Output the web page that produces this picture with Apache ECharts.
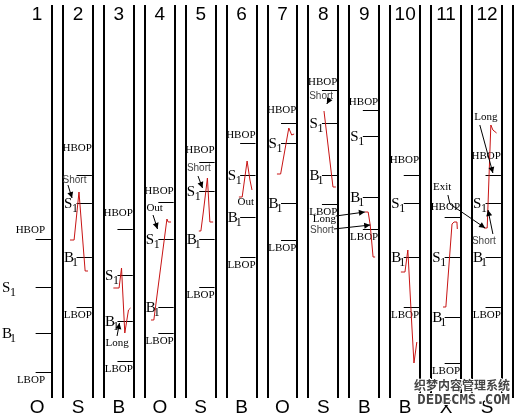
<!DOCTYPE html>
<html>
<head>
<meta charset="utf-8">
<script src="https://cdn.jsdelivr.net/npm/echarts@6/dist/echarts.min.js"></script>
<style>
html, body { margin: 0; padding: 0; background: #fff; }
#chart { width: 522px; height: 414px; }
</style>
</head>
<body>
<div id="chart"></div>
<script>
// sessions and the signal read at the bottom of each one
const sessions = ['1', '2', '3', '4', '5', '6', '7', '8', '9', '10', '11', '12'];
const signals = ['O', 'S', 'B', 'O', 'S', 'B', 'O', 'S', 'B', 'B', 'X', 'S'];

// pivot levels of each session (price units)
const hbop = [175, 239, 185, 212, 252, 271, 291, 324, 304, 239, 197, 239];
const s1 = [127, 211, 139, 175, 223, 239, 271, 291, 278, 211, 157, 211];
const b1 = [81, 157, 93, 107, 175, 197, 211, 239, 217, 157, 97, 157];
const lbop = [42, 107, 53, 81, 127, 157, 174, 210, 185, 107, 51, 107];

// price path inside each session: [time (session units), price]
const path2 = [[1.44, 174], [1.54, 174], [1.66, 222], [1.81, 143], [1.88, 143]];
const path3 = [[2.50, 126], [2.64, 126], [2.70, 146], [2.78, 81], [2.87, 104], [2.92, 106]];
const path4 = [[3.42, 94], [3.49, 94], [3.81, 195], [3.84, 192], [3.91, 192]];
const path5 = [[4.59, 183], [4.64, 183], [4.70, 202], [4.80, 236], [4.86, 192], [4.94, 192]];
const path6 = [[5.57, 217], [5.65, 217], [5.77, 253], [5.84, 234], [5.89, 224]];
const path7 = [[6.50, 240], [6.59, 240], [6.79, 286], [6.86, 279], [6.92, 280]];
const path8 = [[7.65, 303], [7.67, 305], [7.87, 227], [7.94, 227]];
const path9 = [[8.65, 202], [8.73, 202], [8.78, 189], [8.85, 157], [8.90, 157]];
const path10 = [[9.53, 142], [9.63, 142], [9.70, 164], [9.80, 87], [9.85, 51], [9.92, 72]];
const path11 = [[10.56, 107], [10.63, 107], [10.78, 190], [10.83, 192], [10.90, 192], [10.91, 185]];
const path12 = [[11.56, 186], [11.64, 186], [11.73, 289], [11.78, 284], [11.87, 281]];
const pricePaths = [path2, path3, path4, path5, path6, path7, path8, path9, path10, path11, path12];

// annotations: text, style, anchor and arrow (session units, price)
const notes = [
  { text: 'Short', sans: true, at: [1.55, 234], arrow: [[1.39, 229], [1.49, 216]] },
  { text: 'Long', at: [2.59, 71], arrow: [[2.59, 78], [2.65, 91]] },
  { text: 'Out', at: [3.51, 206], arrow: [[3.47, 199], [3.58, 185]] },
  { text: 'Short', sans: true, at: [4.59, 246], arrow: [[4.57, 238], [4.68, 226]] },
  { text: 'Out', at: [5.74, 212] },
  { text: 'Short', sans: true, at: [7.58, 318], arrow: [[7.80, 316], [7.72, 310]] },
  { text: 'Long', at: [7.66, 195], arrow: [[7.94, 198], [8.65, 202]] },
  { text: 'Short', sans: true, at: [7.60, 184], arrow: [[7.89, 185], [8.78, 189]] },
  { text: 'Exit', at: [10.54, 227], arrow: [[10.68, 219], [10.73, 210], [11.59, 186]] },
  { text: 'Long', at: [11.61, 297], arrow: [[11.46, 289], [11.78, 241]] },
  { text: 'Short', sans: true, at: [11.56, 173], arrow: [[11.78, 180], [11.66, 204]] }
];

// layout
const colWidth = 0.73;
const hbopRise = [9, 27, 16, 11, 12, 8, 13, 8, 8, 15, 10, 19];
const serif = '"Liberation Serif", "Times New Roman", serif';
const sans = '"Liberation Sans", Arial, sans-serif';

const levelData = [];
sessions.forEach(function (s, i) {
  levelData.push([i + 1, hbop[i], 0], [i + 1, s1[i], 1], [i + 1, b1[i], 2], [i + 1, lbop[i], 3]);
});
const frameData = [];
sessions.forEach(function (s, i) {
  frameData.push([i + 1], [i + 2 - colWidth]);
});

function renderFrame(params, api) {
  const a = api.coord([api.value(0), 409]);
  const b = api.coord([api.value(0), 16]);
  const x = Math.round(a[0]);
  return {
    type: 'line',
    shape: { x1: x, y1: a[1], x2: x, y2: b[1] },
    style: { stroke: '#000', lineWidth: 2 }
  };
}

function renderLevel(params, api) {
  const col = api.value(0);
  const kind = api.value(2);
  const price = api.value(1);
  const a = api.coord([col - 0.4, price]);
  const b = api.coord([col, price]);
  const left = api.coord([col - colWidth, price])[0];
  const y = Math.round(a[1]) + 0.5;
  const first = col === 1;
  const kids = [{
    type: 'line',
    shape: { x1: a[0], y1: y, x2: b[0] - 1, y2: y },
    style: { stroke: '#000', lineWidth: 1 }
  }];
  if (kind === 0 || kind === 3) {
    kids.push({
      type: 'text',
      style: {
        text: kind === 0 ? 'HBOP' : 'LBOP',
        x: b[0] - (first ? 7 : 1),
        y: kind === 0 ? y - hbopRise[col - 1] : y + 8,
        align: 'right', verticalAlign: 'middle',
        font: '11px ' + serif, fill: '#000'
      }
    });
  } else {
    const lx = first ? 2 : left + 1;
    kids.push({
      type: 'text',
      style: {
        text: kind === 1 ? 'S' : 'B', x: lx, y: y + 1,
        align: 'left', verticalAlign: 'middle',
        font: '15px ' + serif, fill: '#000'
      }
    }, {
      type: 'text',
      style: {
        text: '1', x: lx + 8, y: y + 5,
        align: 'left', verticalAlign: 'middle',
        font: '12px ' + serif, fill: '#000'
      }
    });
  }
  return { type: 'group', children: kids };
}

function renderSession(params, api) {
  const i = params.dataIndex;
  const top = api.coord([i + 1 - colWidth / 2, 399]);
  const bottom = api.coord([i + 1 - colWidth / 2, 6]);
  return {
    type: 'group',
    children: [
      { type: 'text', style: { text: sessions[i], x: top[0], y: top[1], align: 'center', verticalAlign: 'middle', font: '19px ' + sans, fill: '#000' } },
      { type: 'text', style: { text: signals[i], x: bottom[0], y: bottom[1], align: 'center', verticalAlign: 'middle', font: '19px ' + sans, fill: '#000' } }
    ]
  };
}

function renderNote(params, api) {
  const n = notes[params.dataIndex];
  const p = api.coord(n.at);
  const kids = [{
    type: 'text',
    style: {
      text: n.text, x: p[0], y: p[1], align: 'center', verticalAlign: 'middle',
      font: n.sans ? '10px ' + sans : '11px ' + serif,
      fill: n.sans ? '#444' : '#000'
    }
  }];
  if (n.arrow) {
    const pts = n.arrow.map(function (q) { return api.coord(q); });
    kids.push({ type: 'polyline', shape: { points: pts }, style: { stroke: '#000', lineWidth: 1, fill: null } });
    const e = pts[pts.length - 1], s = pts[pts.length - 2];
    const dx = e[0] - s[0], dy = e[1] - s[1], len = Math.sqrt(dx * dx + dy * dy) || 1;
    const ux = dx / len, uy = dy / len;
    kids.push({
      type: 'polygon',
      shape: { points: [e, [e[0] - ux * 6 - uy * 3, e[1] - uy * 6 + ux * 3], [e[0] - ux * 6 + uy * 3, e[1] - uy * 6 - ux * 3]] },
      style: { fill: '#000' }
    });
  }
  return { type: 'group', children: kids };
}

const chart = echarts.init(document.getElementById('chart'));
const series = [
  { type: 'custom', renderItem: renderFrame, data: frameData, silent: true },
  { type: 'custom', renderItem: renderLevel, data: levelData, silent: true },
  { type: 'custom', renderItem: renderSession, data: sessions.map(function (s, i) { return [i + 1]; }), silent: true }
];
pricePaths.forEach(function (p) {
  series.push({
    type: 'line', data: p, symbol: 'none', silent: true,
    lineStyle: { color: '#c81414', width: 1 }, z: 3
  });
});
series.push({ type: 'custom', renderItem: renderNote, data: notes.map(function (n) { return n.at; }), silent: true, z: 4 });

chart.setOption({
  animation: false,
  backgroundColor: '#fff',
  grid: { left: 0, right: 0, top: 0, bottom: 0 },
  xAxis: { type: 'value', min: -0.2714, max: 12.4914, show: false },
  yAxis: { type: 'value', min: 0, max: 414, show: false },
  graphic: [
    { type: 'text', right: 11, top: 378, z: 10, style: { text: '织梦内容管理系统', font: 'bold 12px "Noto Sans CJK SC"', fill: '#444', stroke: '#fff', lineWidth: 2 } },
    { type: 'text', right: 11, top: 392, z: 10, style: { text: 'DEDECMS.COM', font: 'bold 14px "DejaVu Sans Mono"', fill: '#444', stroke: '#fff', lineWidth: 2 } }
  ],
  series: series
});
</script>
</body>
</html>
